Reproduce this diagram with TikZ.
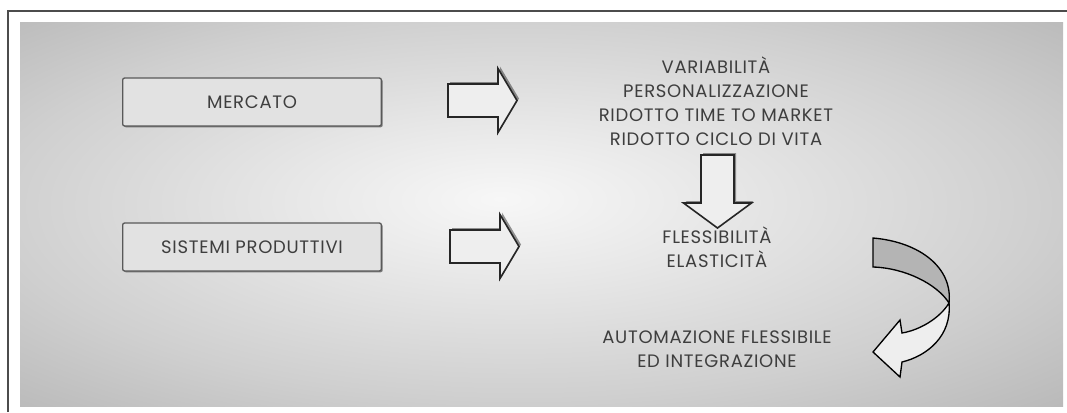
\documentclass[tikz,border=0pt]{standalone}
\usepackage{fontspec}
\setmainfont{Poppins}[LetterSpace=4]
\usetikzlibrary{positioning,shadows}

\definecolor{paneldark}{RGB}{186,186,186}
\definecolor{panellight}{RGB}{247,247,247}
\definecolor{inkgray}{RGB}{62,62,62}
\definecolor{boxfill}{RGB}{226,226,226}
\definecolor{arrowfill}{RGB}{238,238,238}
\definecolor{ribbongray}{RGB}{180,180,180}

\pgfdeclareradialshading{panelshade}{\pgfpoint{-2bp}{2bp}}{color(0bp)=(panellight); color(10bp)=(panellight!75!paneldark); color(25bp)=(paneldark!65!panellight); color(36bp)=(paneldark); color(50bp)=(paneldark)}

\tikzset{
	labelbox/.style={draw=black!65, line width=1pt, rounded corners=1.5pt, fill=boxfill, minimum width=194pt, minimum height=36pt, text=inkgray, font=\fontsize{13.5}{15}\selectfont, drop shadow={shadow xshift=1pt, shadow yshift=-1pt, opacity=.45, fill=black}},
	blockarrow/.style={draw=black!85, line width=1.2pt, fill=arrowfill, drop shadow={shadow xshift=1.5pt, shadow yshift=1.5pt, opacity=.4, fill=black}},
	textlines/.style={align=center, text=inkgray, font=\fontsize{13.5}{18}\selectfont},
}

\begin{document}
\begin{tikzpicture}[x=0.75pt,y=0.75pt,yscale=-1,xscale=1]
		\useasboundingbox (0,0) rectangle (1067,412);
		
		%Frame and shaded panel
		\draw [line width=1.5pt, color=black!70] (7.5,412) -- (7.5,10.5) -- (1067,10.5) ;
		\fill [shading=panelshade] (20,22) rectangle (1063,406) ;
		
		% Boxes
		\draw (252,102) node (mercato) [labelbox] {MERCATO};
		\draw (252,247) node (sistemi) [labelbox] {SISTEMI PRODUTTIVI};
		
		% Text Nodes
		\draw (716,101) node (requisiti) [textlines] {VARIABILITÀ\\PERSONALIZZAZIONE\\RIDOTTO TIME TO MARKET\\RIDOTTO CICLO DI VITA};
		\draw (717,247) node (flessibilita) [textlines] {FLESSIBILITÀ\\ELASTICITÀ};
		\draw (717,349) node (automazione) [textlines] {AUTOMAZIONE FLESSIBILE\\ED INTEGRAZIONE};
		
		%Block arrows
		\coordinate (arrA) at (448,100.5);
		\coordinate (arrB) at (450,246.5);
		\coordinate (arrC) at (717.5,155);
		\draw [blockarrow] (arrA) ++(0,-16.5) -- ++(50,0) -- ++(0,-15.5) -- ++(19,32) -- ++(-19,32) -- ++(0,-15.5) -- ++(-50,0) -- cycle ;
		\draw [blockarrow] (arrB) ++(0,-16.5) -- ++(50,0) -- ++(0,-15.5) -- ++(19,32) -- ++(-19,32) -- ++(0,-15.5) -- ++(-50,0) -- cycle ;
		\draw [blockarrow] (arrC) ++(-16.5,0) -- ++(0,48) -- ++(-17.5,0) -- ++(34,25) -- ++(34,-25) -- ++(-17.5,0) -- ++(0,-48) -- cycle ;
		
		%Curved ribbon arrow
		\draw [line width=1pt, fill=arrowfill] (949,303) .. controls (940,318) and (920,330) .. (902,333) -- (900,320) -- (873,352) -- (900,377) -- (902,362) .. controls (927,356) and (952,336) .. (949,303) -- cycle ;
		\draw [line width=1pt, fill=ribbongray] (873,238) .. controls (920,242) and (953,268) .. (949,303) .. controls (937,284) and (905,268) .. (873,267) -- cycle ;
		
\end{tikzpicture}
\end{document}
